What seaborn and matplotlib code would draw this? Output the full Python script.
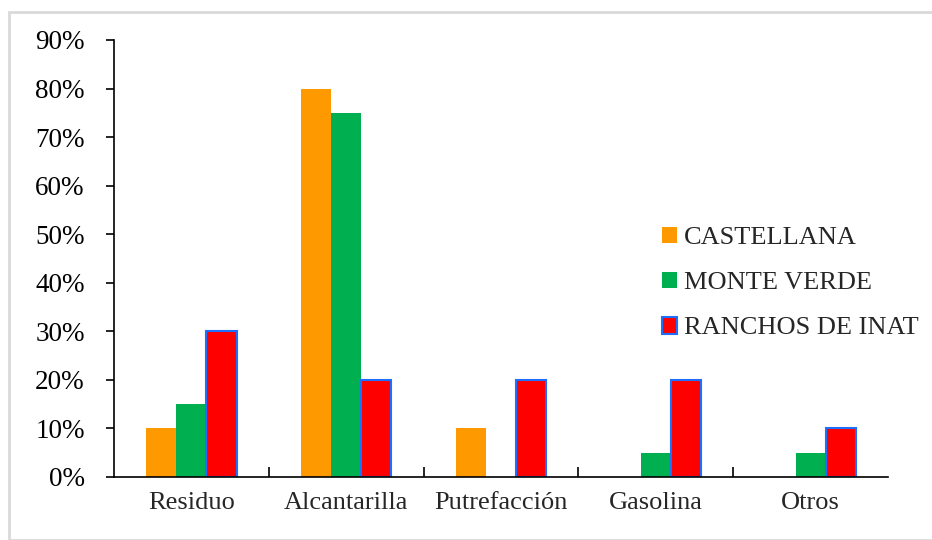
import pandas as pd
import numpy as np
import seaborn as sns
import matplotlib.pyplot as plt
from matplotlib.patches import Rectangle
from matplotlib.ticker import FixedLocator, PercentFormatter

categories = ["Residuo", "Alcantarilla", "Putrefacción", "Gasolina", "Otros"]
castellana = [10, 80, 10, 0, 0]
monte_verde = [15, 75, 0, 5, 5]
ranchos = [30, 20, 20, 20, 10]
series = ["CASTELLANA", "MONTE VERDE", "RANCHOS DE INAT"]
colors = ["#FF9900", "#00B050", "#FF0000"]

df = pd.DataFrame({
    "cat": categories * 3,
    "val": castellana + monte_verde + ranchos,
    "serie": [s for s in series for _ in categories],
})

sns.set_style("white")
plt.rcParams['font.family'] = ['Liberation Serif', 'DejaVu Serif']

fig = plt.figure(figsize=(9.32, 5.40), dpi=100)
ax = fig.add_axes([114 / 932, 1 - 477 / 540, 774 / 932, 437 / 540])

sns.barplot(data=df, x="cat", y="val", hue="serie", palette=colors,
            width=0.585, saturation=1, linewidth=0, ax=ax, legend=False)

# blue outline on the red series
for bar in ax.containers[2]:
    bar.set_edgecolor("#1F6FFF")
    bar.set_linewidth(1.5)

ax.set_xlim(-0.5, 4.5)
ax.set_ylim(0, 90)
ax.set_yticks(np.arange(0, 91, 10))
ax.yaxis.set_major_formatter(PercentFormatter(decimals=0))
ax.set_xlabel("")
ax.set_ylabel("")

for s in ["top", "right"]:
    ax.spines[s].set_visible(False)
for s in ["left", "bottom"]:
    ax.spines[s].set_color("black")
    ax.spines[s].set_linewidth(1.2)

ax.tick_params(axis="y", which="major", direction="out", length=6, width=1.2,
               left=True, labelsize=19.5, pad=15, colors="black")
ax.tick_params(axis="x", which="major", length=0, labelsize=19, pad=11)
ax.xaxis.set_minor_locator(FixedLocator(np.arange(0.5, 4.5, 1)))
ax.tick_params(axis="x", which="minor", direction="in", length=7, width=1.2,
               bottom=True, colors="black")

# legend
handles = []
for i, c in enumerate(colors):
    h = Rectangle((0, 0), 1, 1, facecolor=c,
                  edgecolor="#1F6FFF" if i == 2 else c, linewidth=1.5 if i == 2 else 0)
    handles.append(h)
fig.legend(handles, series, loc="center left", bbox_to_anchor=(651 / 932, 1 - 283 / 540),
           frameon=False, fontsize=19, handlelength=0.6, handleheight=0.6,
           handletextpad=0.25, labelspacing=0.85, borderaxespad=0)

# light grey frame around the figure
fig.patches.append(Rectangle((9 / 932, 0), 1, 1 - 12 / 540, transform=fig.transFigure,
                             fill=False, edgecolor="#D9D9D9", linewidth=2))

fig.savefig("out.png", dpi=100)
